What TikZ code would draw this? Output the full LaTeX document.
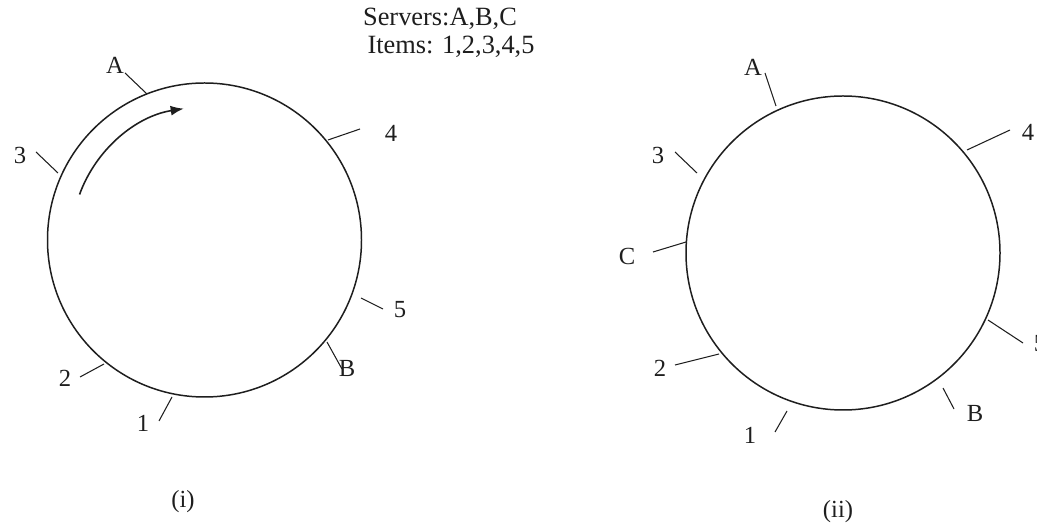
\documentclass[tikz,border=0pt]{standalone}
\usepackage{fontspec}
\setmainfont{Liberation Serif}
\usepackage{xcolor}
\usetikzlibrary{arrows.meta}
\definecolor{Ink}{HTML}{1E1E1E}
\tikzset{
  ring/.style={draw=Ink,line width=0.85pt},
  tick/.style={draw=Ink,line width=0.6pt},
  lbl/.style={inner sep=0pt,font=\fontsize{14}{16}\selectfont,text=Ink},
  title/.style={inner sep=0pt,font=\fontsize{15}{17}\selectfont,text=Ink},
  flow/.style={-{Latex[length=2.6mm,width=2mm]},draw=Ink,line width=0.9pt}
}

\begin{document}
\begin{tikzpicture}[x=0.02cm,y=0.02cm]
  \useasboundingbox (0,0) rectangle (1037,527);
  \begin{scope}
  \clip (0,0) rectangle (1037,527);
  % headings
  \node[title] (servers) at (440,508) {Servers:A,B,C};
  \node[title] (items) at (451,480) {Items: 1,2,3,4,5};

  % ring (i)
  \coordinate (cL) at (204.5,287);
  \draw[ring] (cL) circle[radius=157];
  \draw[flow] (cL) ++(160:133) arc[start angle=160,end angle=99,radius=133];
  \coordinate (lAa) at (125,454); \coordinate (lAb) at (147,433);
  \coordinate (l3a) at (36,375);  \coordinate (l3b) at (58,354);
  \coordinate (l4a) at (328,387); \coordinate (l4b) at (360,398);
  \coordinate (l5a) at (361,229); \coordinate (l5b) at (383,218);
  \coordinate (lBa) at (327,185); \coordinate (lBb) at (342,158);
  \coordinate (l2a) at (80,150);  \coordinate (l2b) at (104,163);
  \coordinate (l1a) at (159,106); \coordinate (l1b) at (172,130);
  \draw[tick] (lAa) -- (lAb);
  \draw[tick] (l3a) -- (l3b);
  \draw[tick] (l4a) -- (l4b);
  \draw[tick] (l5a) -- (l5b);
  \draw[tick] (lBa) -- (lBb);
  \draw[tick] (l2a) -- (l2b);
  \draw[tick] (l1a) -- (l1b);
  \node[lbl] (labLA) at (115,462) {A};
  \node[lbl] (labL3) at (20,372) {3};
  \node[lbl] (labL4) at (391,394) {4};
  \node[lbl] (labL5) at (400,217) {5};
  \node[lbl] (labLB) at (347,159) {B};
  \node[lbl] (labL2) at (65,149) {2};
  \node[lbl] (labL1) at (143,104) {1};
  \node[lbl] (capL) at (183,25) {(i)};

  % ring (ii)
  \coordinate (cR) at (843,274);
  \draw[ring] (cR) circle[radius=157];
  \coordinate (rAa) at (765,454); \coordinate (rAb) at (776,421);
  \coordinate (r3a) at (675,375); \coordinate (r3b) at (697,354);
  \coordinate (r4a) at (967,377); \coordinate (r4b) at (1010,397);
  \coordinate (rCa) at (653,275); \coordinate (rCb) at (686,285);
  \coordinate (r5a) at (988,207); \coordinate (r5b) at (1023,184);
  \coordinate (rBa) at (943,139); \coordinate (rBb) at (954,118);
  \coordinate (r2a) at (675,162); \coordinate (r2b) at (719,173);
  \coordinate (r1a) at (775,95);  \coordinate (r1b) at (787,116);
  \draw[tick] (rAa) -- (rAb);
  \draw[tick] (r3a) -- (r3b);
  \draw[tick] (r4a) -- (r4b);
  \draw[tick] (rCa) -- (rCb);
  \draw[tick] (r5a) -- (r5b);
  \draw[tick] (rBa) -- (rBb);
  \draw[tick] (r2a) -- (r2b);
  \draw[tick] (r1a) -- (r1b);
  \node[lbl] (labRA) at (753,460) {A};
  \node[lbl] (labR3) at (658,372) {3};
  \node[lbl] (labR4) at (1028,395) {4};
  \node[lbl] (labRC) at (627,271) {C};
  \node[lbl] (labR5) at (1040,183) {5};
  \node[lbl] (labRB) at (975,114) {B};
  \node[lbl] (labR2) at (660,159) {2};
  \node[lbl] (labR1) at (750,92) {1};
  \node[lbl] (capR) at (838,15) {(ii)};
  \end{scope}
\end{tikzpicture}
\end{document}
